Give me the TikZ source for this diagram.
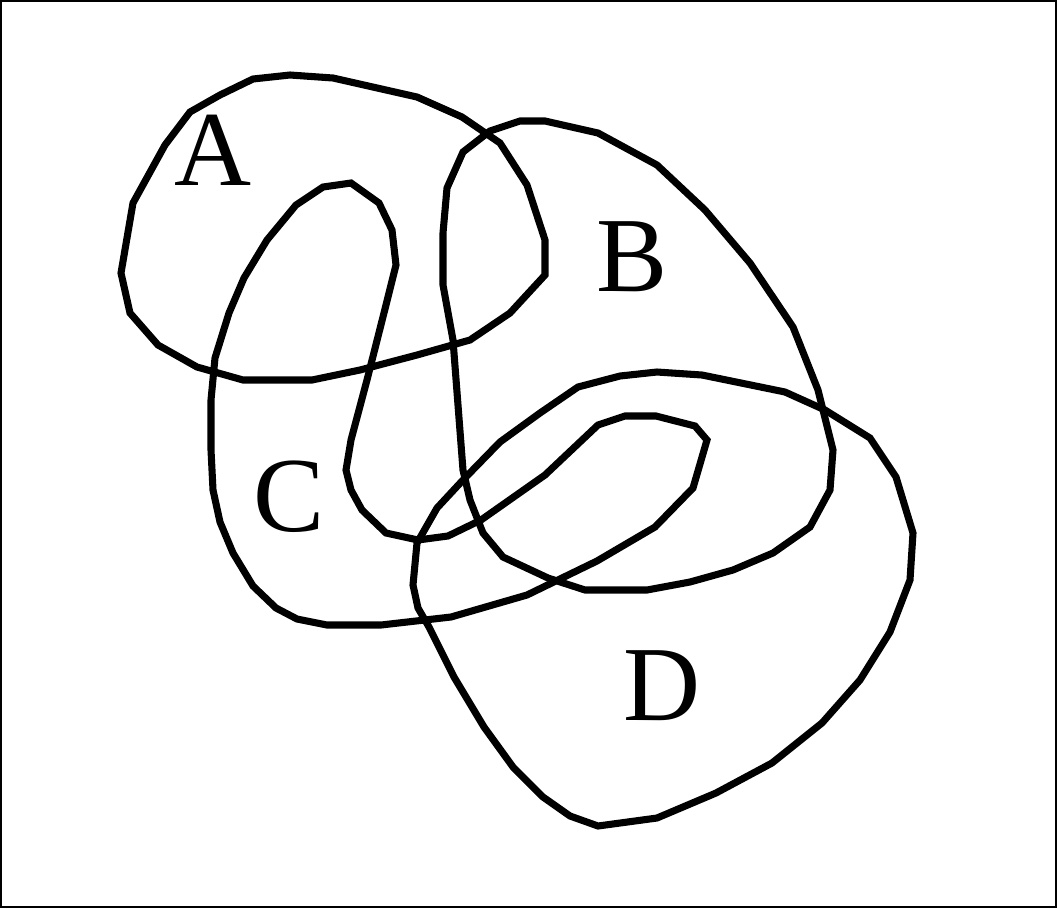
\documentclass[tikz,border=0pt]{standalone}
\usepackage{fontspec}
\setmainfont{Liberation Serif}
\usetikzlibrary{calc}

\begin{document}
\begin{tikzpicture}[
  x=0.75pt, y=-0.75pt,
  line cap=round, line join=miter,
  setline/.style={black, line width=5.3pt},
  setlabel/.style={inner sep=0pt, font=\fontsize{80}{80}\selectfont}
]

% Frame
\useasboundingbox (0,0) rectangle (1057,908);
\draw[black, line width=1.2pt] (1,1) rectangle (1056,907);

% === Set A ===
\draw[setline]
  (253,79) -- (290,75) -- (333,78) -- (417,97) -- (462,117) -- (500,143)
  -- (527,185) -- (545,240) -- (545,275) -- (510,313) -- (470,340)
  -- (417,355) -- (360,370) -- (312,380) -- (243,380) -- (197,367)
  -- (158,345) -- (130,313) -- (121,273) -- (133,203) -- (165,145)
  -- (190,112) -- (220,95) -- cycle;

% === Set B ===
\draw[setline]
  (447,188) -- (463,152) -- (490,131) -- (520,121) -- (545,121) -- (598,133)
  -- (657,165) -- (705,210) -- (750,263) -- (793,327) -- (818,390)
  -- (833,450) -- (830,490) -- (810,527) -- (773,553) -- (733,570)
  -- (690,582) -- (647,590) -- (585,590) -- (548,578) -- (503,557)
  -- (483,533) -- (470,500) -- (463,470) -- (453,340) -- (443,285)
  -- (443,233) -- cycle;

% === Set C ===
\draw[setline]
  (351,183) -- (379,203) -- (392,230) -- (396,265) -- (386,305) -- (367,380)
  -- (351,440) -- (346,470) -- (351,490) -- (362,510) -- (386,533)
  -- (418,540) -- (448,536) -- (481,520) -- (545,475) -- (598,425)
  -- (625,416) -- (656,416) -- (695,426) -- (707,440) -- (693,488)
  -- (655,527) -- (597,561) -- (527,595) -- (451,617) -- (381,625)
  -- (327,625) -- (297,619) -- (276,608) -- (253,586) -- (233,553)
  -- (220,522) -- (213,490) -- (211,450) -- (211,400) -- (215,358)
  -- (229,313) -- (244,278) -- (267,240) -- (296,205) -- (323,187)
  -- cycle;

% === Set D ===
\draw[setline]
  (620,376) -- (657,372) -- (702,375) -- (785,392) -- (825,410)
  -- (870,438) -- (896,477) -- (913,533) -- (910,580) -- (890,632)
  -- (860,680) -- (822,723) -- (772,763) -- (716,793) -- (657,818)
  -- (598,826) -- (570,816) -- (543,797) -- (513,767) -- (484,727)
  -- (454,677) -- (429,627) -- (418,608) -- (413,585) -- (417,543)
  -- (437,508) -- (463,480) -- (500,442) -- (540,413) -- (578,387)
  -- cycle;

% Labels
\node[setlabel] (labA) at (213,150) {A};
\node[setlabel] (labB) at (632,257) {B};
\node[setlabel] (labC) at (289,497) {C};
\node[setlabel] (labD) at (662,686) {D};

\end{tikzpicture}
\end{document}
